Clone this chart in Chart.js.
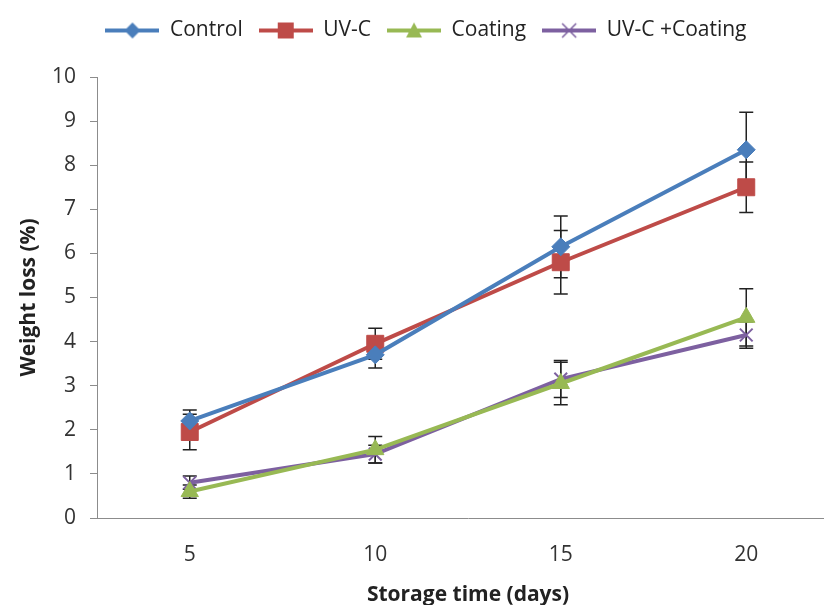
<!DOCTYPE html>
<html>
<head>
<meta charset="utf-8">
<script src="https://cdn.jsdelivr.net/npm/chart.js@4.4.0/dist/chart.umd.min.js"></script>
<style>
  html, body { margin: 0; padding: 0; background: #fff; overflow: hidden; }
</style>
</head>
<body>
<canvas id="chart" width="852" height="605"></canvas>
<script>
// data
const days = ['5', '10', '15', '20'];
const control = [2.2, 3.7, 6.15, 8.35];
const controlErr = [0.25, 0.3, 0.7, 0.85];
const uvc = [1.95, 3.95, 5.8, 7.5];
const uvcErr = [0.4, 0.35, 0.72, 0.57];
const coating = [0.6, 1.55, 3.05, 4.55];
const coatingErr = [0.15, 0.3, 0.48, 0.65];
const uvcCoating = [0.8, 1.45, 3.15, 4.15];
const uvcCoatingErr = [0.15, 0.2, 0.42, 0.3];

const FONT = "'Open Sans', 'Liberation Sans', sans-serif";

// little line+marker picture for the legend
const legendIcon = (color, style) => {
    const c = document.createElement('canvas');
    c.width = 54; c.height = 20;
    const ctx = c.getContext('2d');
    ctx.strokeStyle = color; ctx.fillStyle = color; ctx.lineWidth = 4;
    ctx.beginPath(); ctx.moveTo(0, 10); ctx.lineTo(54, 10); ctx.stroke();
    ctx.beginPath();
    if (style === 'rectRot') {
        ctx.moveTo(27, 2); ctx.lineTo(35, 10); ctx.lineTo(27, 18); ctx.lineTo(19, 10); ctx.closePath(); ctx.fill();
    } else if (style === 'rect') {
        ctx.fillRect(19, 2, 16, 16);
    } else if (style === 'triangle') {
        ctx.moveTo(27, 2); ctx.lineTo(35, 17); ctx.lineTo(19, 17); ctx.closePath(); ctx.fill();
    } else {
        ctx.lineWidth = 1.5;
        ctx.moveTo(20, 3); ctx.lineTo(34, 17); ctx.moveTo(34, 3); ctx.lineTo(20, 17); ctx.stroke();
    }
    return c;
};

const series = (label, data, err, color, style, radius) => ({
    label: label,
    data: data,
    errors: err,
    borderColor: color,
    backgroundColor: color,
    borderWidth: 4,
    pointStyle: style,
    pointRadius: radius,
    pointHoverRadius: radius,
    pointBorderWidth: style === 'crossRot' ? 2 : 1,
    tension: 0,
    icon: legendIcon(color, style)
});

// error bars, drawn under the markers
const errorBars = {
    id: 'errorBars',
    beforeDatasetsDraw(chart) {
        const ctx = chart.ctx;
        const y = chart.scales.y;
        ctx.save();
        ctx.strokeStyle = '#222';
        ctx.lineWidth = 1.5;
        chart.data.datasets.forEach((ds, i) => {
            const meta = chart.getDatasetMeta(i);
            meta.data.forEach((pt, j) => {
                const v = ds.data[j], e = ds.errors[j];
                const top = y.getPixelForValue(v + e);
                const bot = y.getPixelForValue(v - e);
                ctx.beginPath();
                ctx.moveTo(pt.x, top); ctx.lineTo(pt.x, bot);
                ctx.moveTo(pt.x - 7, top); ctx.lineTo(pt.x + 7, top);
                ctx.moveTo(pt.x - 7, bot); ctx.lineTo(pt.x + 7, bot);
                ctx.stroke();
            });
        });
        ctx.restore();
    }
};

// extra gap under the legend
const legendGap = {
    id: 'legendGap',
    afterInit(chart) {
        const fit = chart.legend.fit;
        chart.legend.fit = function () {
            fit.call(this);
            this.height += 26;
        };
    }
};

new Chart(document.getElementById('chart'), {
    type: 'line',
    data: {
        labels: days,
        datasets: [
            series('Control', control, controlErr, '#4A7EBB', 'rectRot', 9),
            series('UV-C', uvc, uvcErr, '#BE4B48', 'rect', 12),
            series('Coating', coating, coatingErr, '#98B954', 'triangle', 10),
            series('UV-C +Coating', uvcCoating, uvcCoatingErr, '#7D60A0', 'crossRot', 9)
        ]
    },
    options: {
        responsive: false,
        animation: false,
        layout: { padding: { top: 4, right: 0, bottom: 0, left: 0 } },
        plugins: {
            tooltip: { enabled: false },
            legend: {
                position: 'top',
                labels: {
                    usePointStyle: true,
                    pointStyleWidth: 54,
                    padding: 16,
                    color: '#222',
                    font: { family: FONT, size: 21 },
                    generateLabels: (chart) => chart.data.datasets.map((ds, i) => ({
                        text: ds.label,
                        pointStyle: ds.icon,
                        fontColor: '#222',
                        hidden: false,
                        datasetIndex: i,
                        lineWidth: 0
                    }))
                }
            }
        },
        scales: {
            x: {
                offset: true,
                grid: { display: false },
                border: { display: true, color: '#8c8c8c', width: 1 },
                ticks: { color: '#333', padding: 16, font: { family: FONT, size: 21 } },
                title: { display: true, text: 'Storage time (days)', color: '#222', padding: { top: 2, bottom: -3 },
                    font: { family: FONT, size: 21, weight: 'bold' } },
                afterFit: (s) => { s.height = 87; }
            },
            y: {
                min: 0, max: 10,
                grid: { drawOnChartArea: false, tickLength: 7, color: '#8c8c8c' },
                border: { display: true, color: '#8c8c8c', width: 1 },
                ticks: { stepSize: 1, color: '#333', padding: 14, font: { family: FONT, size: 21 } },
                title: { display: true, text: 'Weight loss (%)', color: '#222', padding: { top: 16, bottom: 0 },
                    font: { family: FONT, size: 21, weight: 'bold' } },
                afterFit: (s) => { s.width = 97; }
            }
        }
    },
    plugins: [errorBars, legendGap]
});
</script>
</body>
</html>
